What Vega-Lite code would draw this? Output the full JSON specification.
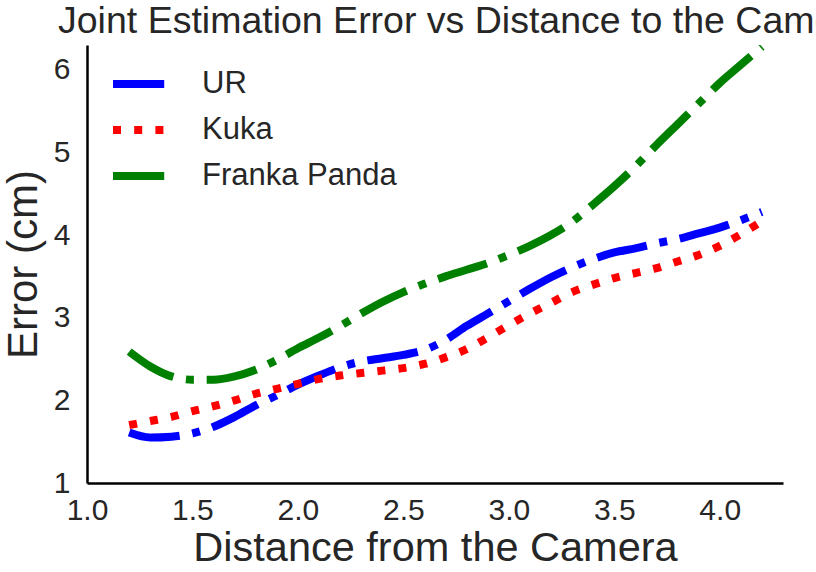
{
  "$schema": "https://vega.github.io/schema/vega-lite/v6.json",
  "width": 696,
  "height": 438,
  "autosize": {"type": "none"},
  "padding": {"left": 87, "top": 45, "right": 33, "bottom": 89},
  "background": "white",
  "title": {
    "text": "Joint Estimation Error vs Distance to the Camera",
    "fontSize": 37.5,
    "font": "Liberation Sans",
    "fontWeight": "normal",
    "color": "#262626",
    "anchor": "start",
    "frame": "group",
    "baseline": "bottom",
    "offset": 6,
    "dx": -29,
    "dy": 39
  },
  "config": {
    "view": {"stroke": null},
    "font": "Liberation Sans"
  },
  "data": {
    "values": [
      {"d": 1.2, "e": 1.61, "robot": "UR"},
      {"d": 1.3, "e": 1.55, "robot": "UR"},
      {"d": 1.4, "e": 1.56, "robot": "UR"},
      {"d": 1.5, "e": 1.60, "robot": "UR"},
      {"d": 1.6, "e": 1.68, "robot": "UR"},
      {"d": 1.7, "e": 1.80, "robot": "UR"},
      {"d": 1.8, "e": 1.94, "robot": "UR"},
      {"d": 1.9, "e": 2.06, "robot": "UR"},
      {"d": 2.0, "e": 2.19, "robot": "UR"},
      {"d": 2.1, "e": 2.30, "robot": "UR"},
      {"d": 2.2, "e": 2.40, "robot": "UR"},
      {"d": 2.3, "e": 2.47, "robot": "UR"},
      {"d": 2.4, "e": 2.51, "robot": "UR"},
      {"d": 2.5, "e": 2.55, "robot": "UR"},
      {"d": 2.6, "e": 2.61, "robot": "UR"},
      {"d": 2.7, "e": 2.73, "robot": "UR"},
      {"d": 2.8, "e": 2.90, "robot": "UR"},
      {"d": 2.9, "e": 3.05, "robot": "UR"},
      {"d": 3.0, "e": 3.20, "robot": "UR"},
      {"d": 3.1, "e": 3.35, "robot": "UR"},
      {"d": 3.2, "e": 3.49, "robot": "UR"},
      {"d": 3.3, "e": 3.61, "robot": "UR"},
      {"d": 3.4, "e": 3.71, "robot": "UR"},
      {"d": 3.5, "e": 3.79, "robot": "UR"},
      {"d": 3.6, "e": 3.84, "robot": "UR"},
      {"d": 3.7, "e": 3.90, "robot": "UR"},
      {"d": 3.8, "e": 3.95, "robot": "UR"},
      {"d": 3.9, "e": 4.02, "robot": "UR"},
      {"d": 4.0, "e": 4.09, "robot": "UR"},
      {"d": 4.1, "e": 4.18, "robot": "UR"},
      {"d": 4.2, "e": 4.28, "robot": "UR"},
      {"d": 1.2, "e": 1.70, "robot": "Kuka"},
      {"d": 1.3, "e": 1.75, "robot": "Kuka"},
      {"d": 1.4, "e": 1.80, "robot": "Kuka"},
      {"d": 1.5, "e": 1.87, "robot": "Kuka"},
      {"d": 1.6, "e": 1.93, "robot": "Kuka"},
      {"d": 1.7, "e": 2.00, "robot": "Kuka"},
      {"d": 1.8, "e": 2.08, "robot": "Kuka"},
      {"d": 1.9, "e": 2.14, "robot": "Kuka"},
      {"d": 2.0, "e": 2.20, "robot": "Kuka"},
      {"d": 2.1, "e": 2.26, "robot": "Kuka"},
      {"d": 2.2, "e": 2.30, "robot": "Kuka"},
      {"d": 2.3, "e": 2.33, "robot": "Kuka"},
      {"d": 2.4, "e": 2.36, "robot": "Kuka"},
      {"d": 2.5, "e": 2.39, "robot": "Kuka"},
      {"d": 2.6, "e": 2.44, "robot": "Kuka"},
      {"d": 2.7, "e": 2.52, "robot": "Kuka"},
      {"d": 2.8, "e": 2.62, "robot": "Kuka"},
      {"d": 2.9, "e": 2.76, "robot": "Kuka"},
      {"d": 3.0, "e": 2.91, "robot": "Kuka"},
      {"d": 3.1, "e": 3.05, "robot": "Kuka"},
      {"d": 3.2, "e": 3.18, "robot": "Kuka"},
      {"d": 3.3, "e": 3.31, "robot": "Kuka"},
      {"d": 3.4, "e": 3.40, "robot": "Kuka"},
      {"d": 3.5, "e": 3.48, "robot": "Kuka"},
      {"d": 3.6, "e": 3.54, "robot": "Kuka"},
      {"d": 3.7, "e": 3.60, "robot": "Kuka"},
      {"d": 3.8, "e": 3.68, "robot": "Kuka"},
      {"d": 3.9, "e": 3.76, "robot": "Kuka"},
      {"d": 4.0, "e": 3.87, "robot": "Kuka"},
      {"d": 4.1, "e": 4.01, "robot": "Kuka"},
      {"d": 4.2, "e": 4.17, "robot": "Kuka"},
      {"d": 1.2, "e": 2.59, "robot": "Franka Panda"},
      {"d": 1.3, "e": 2.41, "robot": "Franka Panda"},
      {"d": 1.4, "e": 2.29, "robot": "Franka Panda"},
      {"d": 1.5, "e": 2.25, "robot": "Franka Panda"},
      {"d": 1.6, "e": 2.25, "robot": "Franka Panda"},
      {"d": 1.7, "e": 2.29, "robot": "Franka Panda"},
      {"d": 1.8, "e": 2.37, "robot": "Franka Panda"},
      {"d": 1.9, "e": 2.49, "robot": "Franka Panda"},
      {"d": 2.0, "e": 2.63, "robot": "Franka Panda"},
      {"d": 2.1, "e": 2.76, "robot": "Franka Panda"},
      {"d": 2.2, "e": 2.90, "robot": "Franka Panda"},
      {"d": 2.3, "e": 3.05, "robot": "Franka Panda"},
      {"d": 2.4, "e": 3.19, "robot": "Franka Panda"},
      {"d": 2.5, "e": 3.31, "robot": "Franka Panda"},
      {"d": 2.6, "e": 3.41, "robot": "Franka Panda"},
      {"d": 2.7, "e": 3.50, "robot": "Franka Panda"},
      {"d": 2.8, "e": 3.58, "robot": "Franka Panda"},
      {"d": 2.9, "e": 3.66, "robot": "Franka Panda"},
      {"d": 3.0, "e": 3.76, "robot": "Franka Panda"},
      {"d": 3.1, "e": 3.87, "robot": "Franka Panda"},
      {"d": 3.2, "e": 4.00, "robot": "Franka Panda"},
      {"d": 3.3, "e": 4.16, "robot": "Franka Panda"},
      {"d": 3.4, "e": 4.37, "robot": "Franka Panda"},
      {"d": 3.5, "e": 4.59, "robot": "Franka Panda"},
      {"d": 3.6, "e": 4.83, "robot": "Franka Panda"},
      {"d": 3.7, "e": 5.09, "robot": "Franka Panda"},
      {"d": 3.8, "e": 5.34, "robot": "Franka Panda"},
      {"d": 3.9, "e": 5.59, "robot": "Franka Panda"},
      {"d": 4.0, "e": 5.84, "robot": "Franka Panda"},
      {"d": 4.1, "e": 6.06, "robot": "Franka Panda"},
      {"d": 4.2, "e": 6.28, "robot": "Franka Panda"}
    ]
  },
  "mark": {"type": "line", "strokeWidth": 8, "interpolate": "monotone", "strokeCap": "butt", "clip": true},
  "encoding": {
    "x": {
      "field": "d",
      "type": "quantitative",
      "scale": {"domain": [1, 4.3], "nice": false, "zero": false},
      "axis": {
        "title": "Distance from the Camera",
        "values": [1, 1.5, 2, 2.5, 3, 3.5, 4],
        "format": ".1f",
        "grid": false,
        "ticks": false,
        "domainColor": "#000000",
        "domainWidth": 2.5,
        "labelFontSize": 30,
        "labelColor": "#262626",
        "labelPadding": 12,
        "labelFlush": false,
        "titleFontSize": 41.5,
        "titleFontWeight": "normal",
        "titleColor": "#262626",
        "titlePadding": 2
      }
    },
    "y": {
      "field": "e",
      "type": "quantitative",
      "scale": {"domain": [1, 6.3], "nice": false, "zero": false},
      "axis": {
        "title": "Error (cm)",
        "values": [1, 2, 3, 4, 5, 6],
        "format": "d",
        "grid": false,
        "ticks": false,
        "domainColor": "#000000",
        "domainWidth": 2.5,
        "labelFontSize": 30,
        "labelColor": "#262626",
        "labelPadding": 17,
        "labelFlush": false,
        "titleFontSize": 42,
        "titleFontWeight": "normal",
        "titleColor": "#262626",
        "titlePadding": 8
      }
    },
    "color": {
      "field": "robot",
      "type": "nominal",
      "sort": ["UR", "Kuka", "Franka Panda"],
      "scale": {"domain": ["UR", "Kuka", "Franka Panda"], "range": ["#0000ff", "#ff0000", "#008000"]},
      "legend": {
        "title": null,
        "orient": "none",
        "legendX": 22,
        "legendY": 9,
        "padding": 0,
        "symbolType": "stroke",
        "symbolSize": 2704,
        "symbolStrokeWidth": 8,
        "labelFontSize": 31,
        "labelColor": "#262626",
        "labelOffset": 33,
        "labelLimit": 0,
        "rowPadding": 0
      }
    },
    "strokeDash": {
      "field": "robot",
      "type": "nominal",
      "sort": ["UR", "Kuka", "Franka Panda"],
      "scale": {"domain": ["UR", "Kuka", "Franka Panda"], "range": [[51.2, 12.8, 8, 12.8], [8, 13.2], [51.2, 12.8, 8, 12.8]]}
    }
  }
}
